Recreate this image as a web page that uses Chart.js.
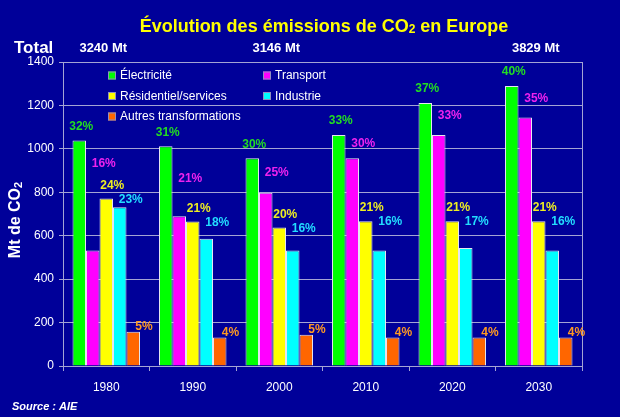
<!DOCTYPE html>
<html><head><meta charset="utf-8">
<script src="https://cdn.jsdelivr.net/npm/chart.js@4"></script>
<style>html,body{margin:0;padding:0;background:#000099;}canvas{display:block;}</style>
</head><body>
<canvas id="c" width="620" height="417"></canvas>
<script>
const categories = ['1980', '1990', '2000', '2010', '2020', '2030'];
const electricite = [1038, 1012, 957, 1064, 1211, 1290];
const transport = [532, 690, 798, 957, 1064, 1144];
const residentiel = [771, 665, 638, 667, 667, 667];
const industrie = [731, 586, 532, 532, 543, 532];
const autres = [158, 131, 144, 131, 131, 131];
const pctElectricite = [32, 31, 30, 33, 37, 40];
const pctTransport = [16, 21, 25, 30, 33, 35];
const pctResidentiel = [24, 21, 20, 21, 21, 21];
const pctIndustrie = [23, 18, 16, 16, 17, 16];
const pctAutres = [5, 4, 5, 4, 4, 4];
const totalCategories = ['1980', '2000', '2030'];
const totalLabels = ['3240 Mt', '3146 Mt', '3829 Mt'];
const yTicks = [0, 200, 400, 600, 800, 1000, 1200, 1400];

const BG = '#000099';
const GRID = '#a4a4d4';
const barColors = ['#00ff00', '#ff00ff', '#ffff00', '#00ffff', '#ff6600'];
const labelColors = ['#22dd22', '#ee22ee', '#eeee22', '#22ddff', '#ff9922'];
const FAM = '"Liberation Sans", Arial, sans-serif';

const overlay = {
  id: 'overlay',
  beforeDraw(chart) {
    const ctx = chart.ctx;
    ctx.save();
    ctx.fillStyle = BG;
    ctx.fillRect(0, 0, chart.width, chart.height);
    ctx.restore();
  },
  afterDraw(chart) {
    const ctx = chart.ctx;
    const ca = chart.chartArea;
    const xs = chart.scales.x;
    ctx.save();
    // right border
    ctx.strokeStyle = GRID; ctx.lineWidth = 1;
    ctx.beginPath(); ctx.moveTo(Math.round(ca.right) + 0.5, ca.top); ctx.lineTo(Math.round(ca.right) + 0.5, ca.bottom + 5); ctx.stroke();

    // title
    ctx.fillStyle = '#ffff00';
    ctx.textBaseline = 'middle';
    const t1 = 'Évolution des émissions de CO', t2 = '2', t3 = ' en Europe';
    ctx.font = 'bold 18px ' + FAM;
    const w1 = ctx.measureText(t1).width, w3 = ctx.measureText(t3).width;
    ctx.font = 'bold 12px ' + FAM;
    const w2 = ctx.measureText(t2).width;
    let x = 324 - (w1 + w2 + w3) / 2;
    ctx.textAlign = 'left';
    ctx.font = 'bold 18px ' + FAM;
    ctx.fillText(t1, x, 27); x += w1;
    ctx.font = 'bold 12px ' + FAM;
    ctx.fillText(t2, x, 30); x += w2;
    ctx.font = 'bold 18px ' + FAM;
    ctx.fillText(t3, x, 27);

    // totals
    ctx.fillStyle = '#ffffff';
    ctx.font = 'bold 17px ' + FAM;
    ctx.fillText('Total', 14, 48);
    ctx.font = 'bold 13px ' + FAM;
    ctx.textAlign = 'center';
    totalCategories.forEach((c, i) => {
      const cx = xs.getPixelForValue(categories.indexOf(c));
      ctx.fillText(totalLabels[i], cx - 3, 48);
    });

    // y title
    ctx.save();
    ctx.translate(16, 220);
    ctx.rotate(-Math.PI / 2);
    ctx.font = 'bold 16px ' + FAM;
    const a1 = 'Mt de CO';
    const aw1 = ctx.measureText(a1).width;
    ctx.font = 'bold 11px ' + FAM;
    const aw2 = ctx.measureText('2').width;
    let ax = -(aw1 + aw2) / 2;
    ctx.textAlign = 'left';
    ctx.font = 'bold 16px ' + FAM;
    ctx.fillText(a1, ax, 0);
    ctx.font = 'bold 11px ' + FAM;
    ctx.fillText('2', ax + aw1, 3);
    ctx.restore();

    // source
    ctx.textAlign = 'left';
    ctx.font = 'italic bold 11px ' + FAM;
    ctx.fillText('Source : AIE', 12, 407);

    // legend
    const ds = chart.data.datasets;
    const legendPos = [[108, 75.5], [263, 75.5], [108, 96], [263, 96], [108, 116.5]];
    ctx.font = '12px ' + FAM;
    ds.forEach((d, i) => {
      const [lx, ly] = legendPos[i];
      ctx.fillStyle = d.backgroundColor;
      ctx.fillRect(lx, ly - 4, 8, 8);
      ctx.strokeStyle = '#9090c0'; ctx.lineWidth = 1;
      ctx.strokeRect(lx + 0.5, ly - 3.5, 7, 7);
      ctx.fillStyle = '#ffffff';
      ctx.fillText(d.label, lx + 12, ly + 0.5);
    });

    // percent labels
    ctx.font = 'bold 12px ' + FAM;
    const metas = ds.map((d, i) => chart.getDatasetMeta(i));
    categories.forEach((c, j) => {
      const b = metas.map(m => m.data[j]);
      const yl = b[2].y - 13;
      ctx.textAlign = 'center';
      ctx.fillStyle = labelColors[0];
      ctx.fillText(pctElectricite[j] + '%', b[0].x + 2, b[0].y - 14);
      ctx.textAlign = 'left';
      ctx.fillStyle = labelColors[1];
      ctx.fillText(pctTransport[j] + '%', b[1].x - 1, Math.min((b[0].y + b[1].y) / 2 - 3, yl - 22));
      ctx.fillStyle = labelColors[2];
      ctx.fillText(pctResidentiel[j] + '%', b[2].x - 6, yl);
      ctx.fillStyle = labelColors[3];
      ctx.fillText(pctIndustrie[j] + '%', b[3].x - 1, yl + 14);
      ctx.fillStyle = labelColors[4];
      ctx.fillText(pctAutres[j] + '%', b[4].x + 2, b[4].y - 5);
    });
    ctx.restore();
  }
};

const seriesNames = ['Électricité', 'Transport', 'Résidentiel/services', 'Industrie', 'Autres transformations'];
const seriesValues = [electricite, transport, residentiel, industrie, autres];

new Chart(document.getElementById('c'), {
  type: 'bar',
  data: {
    labels: categories,
    datasets: seriesValues.map((v, i) => ({
      label: seriesNames[i],
      data: v,
      backgroundColor: barColors[i],
      borderColor: '#e6e6f0',
      borderWidth: 1,
      categoryPercentage: 0.78,
      barPercentage: 1.0
    }))
  },
  options: {
    responsive: false,
    animation: false,
    devicePixelRatio: 1,
    layout: { padding: { top: 62, right: 38, bottom: 21, left: 0 } },
    plugins: { legend: { display: false }, tooltip: { enabled: false }, title: { display: false } },
    scales: {
      x: {
        grid: { drawOnChartArea: false, color: GRID, tickLength: 5, offset: true },
        border: { color: GRID },
        ticks: { color: '#ffffff', font: { size: 12, family: FAM }, padding: 9 },
        afterFit(s) { s.height = 30; }
      },
      y: {
        min: 0, max: 1400,
        afterBuildTicks(s) { s.ticks = yTicks.map(v => ({ value: v })); },
        grid: { color: GRID, tickLength: 4 },
        border: { color: GRID },
        ticks: { color: '#ffffff', font: { size: 12, family: FAM }, padding: 5, callback: v => String(v) },
        afterFit(s) { s.width = 63; }
      }
    }
  },
  plugins: [overlay]
});
</script>
</body></html>
